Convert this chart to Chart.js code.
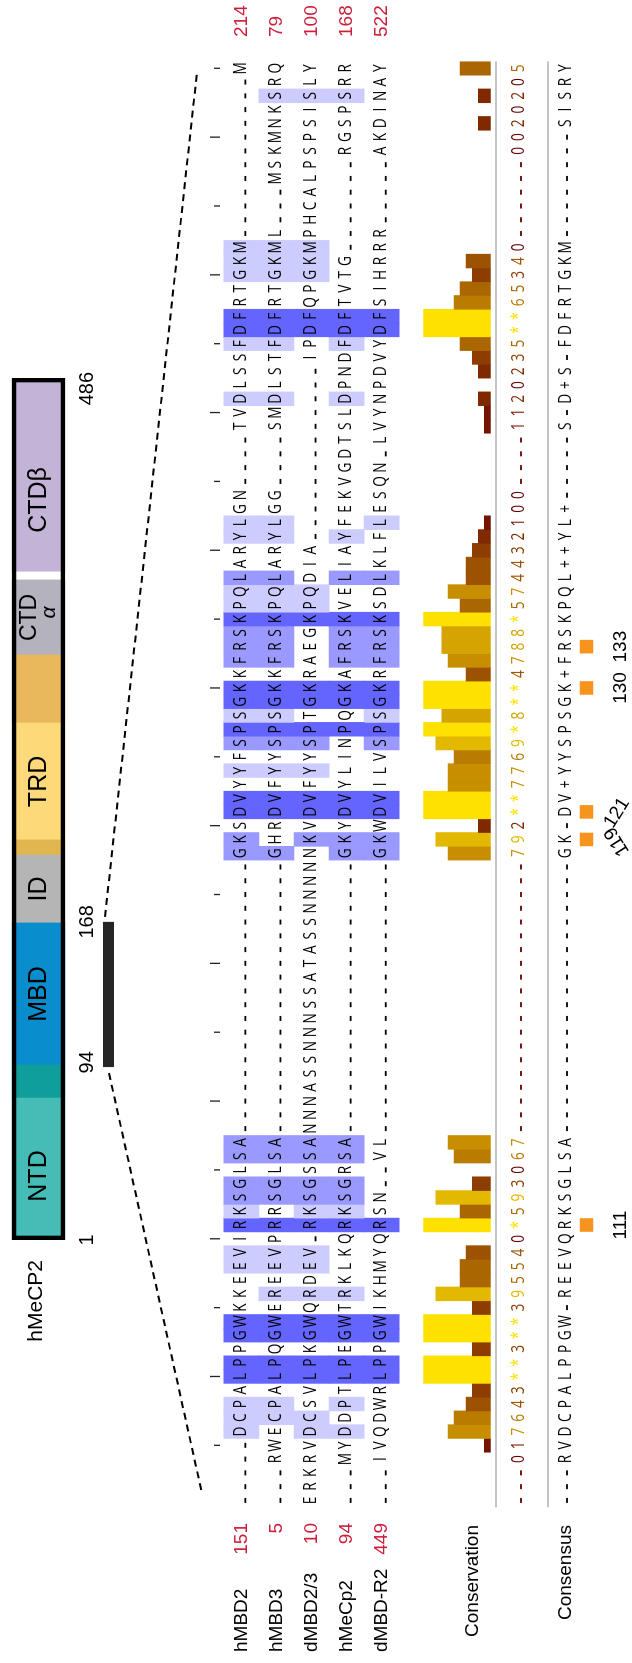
<!DOCTYPE html>
<html lang="en">
<head>
<meta charset="utf-8">
<title>MBD2 / MBD3 / MeCP2 alignment</title>
<script src="https://cdn.jsdelivr.net/npm/chart.js@4.4.1/dist/chart.umd.min.js"></script>
<style>
  html, body { margin: 0; padding: 0; background: #fff; overflow: hidden; }
  body { width: 632px; height: 1663px; position: relative; }
  /* the figure is laid out landscape and turned to read bottom-to-top */
  #sheet { position: absolute; left: 0; top: 0; width: 1663px; height: 632px;
           transform-origin: 0 0; transform: translate(0, 1663px) rotate(-90deg); }
  #sheet canvas { position: absolute; left: 0; top: 0; }
</style>
</head>
<body>
<div id="sheet">
  <canvas id="alignment" width="1663" height="632"></canvas>
  <canvas id="domains" width="1663" height="130"></canvas>
</div>
<script>
// ---------- aligned sequences ('-' = gap) ----------
const seqNames = ['hMBD2', 'hMBD3', 'dMBD2/3', 'hMeCp2', 'dMBD-R2'];
const seqStart = [151, 5, 10, 94, 449];
const seqEnd   = [214, 79, 100, 168, 522];

const hMBD2  = '-----DCPALPPGWKKEEVIRKSGLSA' + '--------------------' +
               'GKSDVYYFSPSGKKFRSKPQLARYLGN' + '----' + 'TVDLSSFDFRTGKM' + '------------' + 'M';
const hMBD3  = '---RWECPALPQGWEREEVPRRSGLSA' + '--------------------' +
               'GHRDVFYYSPSGKKFRSKPQLARYLGG' + '----' + 'SMDLSTFDFRTGKML' + '---' + 'MSKMNKSRQ';
const dMBD23 = 'ERKRVDCSVLPKGWQRDEV-RKSGSSA' + 'NNNASSNNNSSATASSNNNN' +
               'NKVDVFYYSPTGKRAEGKPQDIA' + '-------------' + 'IPDFQPGKMPHCALPSPSISLY';
const hMeCp2 = '---MYDDPTLPEGWTRKLKQRKSGRSA' + '--------------------' +
               'GKYDVYLINPQGKAFRSKVELIAYFEKVGDTSLDPNDFDFTVTG' + '-------' + 'RGSPSRR';
const dMBDR2 = '---IVQDWRLPPGWIKHMYQRSN--VL' + '--------------------' +
               'GKWDVILVSPSGKRFRSKSDLKLFLESQN' + '-' + 'LVYNPDVYDFSIHRRR' + '-----' + 'AKDINAY';

// conservation score per column ('*' = 11, '+' = 10, '-' = gap column)
const conservation = '---017643**3**395540*593067' + '--------------------' +
                     '792**7769*8**4788*574432100----1120235**65340------0020205';
const consensus    = '---RVDCPALPPGW-REEVQRKSGLSA' + '--------------------' +
                     'GK-DV+YYSPSGK+FRSKPQL++YL+-----S-D+S-FDFRTGKM--------SISRY';

// MeCP2 residues marked under the consensus
const mecp2Sites = [111, 119, 121, 130, 133];

// hMeCP2 domain map (diagram units along the bar)
const domainNames = ['NTD', '', 'MBD', 'ID', '', 'TRD', '', 'CTDα', '', 'CTDβ'];
const domainFrom  = [1, 80.9, 99.5, 179.4, 217.6, 226.1, 291.9, 330.2, 372.4, 376.9];
const domainTo    = [80.9, 99.5, 179.4, 217.6, 226.1, 291.9, 330.2, 372.4, 376.9, 486];
const domainTickText = ['1', '94', '168', '486'];
const domainTickAt   = [1, 101, 180, 480];
const alignedSpan    = [98.3, 180];

// ---------- styling / layout ----------
const W = 1663, H = 632;
const COL_LEFT = 155.7, COL_RIGHT = 1601.6;
const ROW0 = 239, ROWH = 36.2;              // first sequence row centre, row pitch
const CONS_BASE = 496, CONS_TOP = 427, CONS_MAX = 11;
const RULER_Y = 220, CONS_TEXT_Y = 518, CONSENSUS_Y = 565, SITE_Y = 595, SITE_LABEL_Y = 621;
const CONS_LINE_Y = 496, CONSENSUS_LINE_Y = 548;
const LETTER_FONT = '18px "Open Sans", "DejaVu Sans", sans-serif';
const LETTER_SX = 0.76, CAP_HALF = 6.4;
const LABEL_FONT = '"Liberation Sans", Arial, Helvetica, sans-serif';
const RED = '#cc1f3c';
const PID_COLORS = ['#ccccff', '#9999ff', '#6464ff'];   // >40 %, >60 %, >80 % identity
const DOMAIN_COLORS = ['#45bcb5', '#0f9e9a', '#0a8dcd', '#b5b5b5', '#e2b64e',
                       '#fdd97a', '#e9b85c', '#b4b2bc', '#ffffff', '#c3b4d7'];
const DOMAIN_LABEL_NUDGE = { 'NTD': -7, 'CTDβ': -25 };

const seqs = [hMBD2, hMBD3, dMBD23, hMeCp2, dMBDR2];
const N = hMBD2.length;
const colLabels = Array.from({ length: N }, (_, i) => String(i + 1));

const scoreOf = ch => ch === '*' ? 11 : ch === '+' ? 10 : ch === '-' ? 0 : Number(ch);
const consScores = conservation.split('').map(scoreOf);
function consColor(s) {
  const t = s / 11;
  return 'rgb(' + Math.round(100 + 155 * t) + ',' + Math.round(225 * t) + ',0)';
}

// percent identity shading (residue equal to the column's most common residue)
function columnTop(i) {
  const counts = {};
  seqs.forEach(s => { const c = s[i]; if (c !== '-') counts[c] = (counts[c] || 0) + 1; });
  let best = null, n = 0;
  for (const k in counts) if (counts[k] > n) { n = counts[k]; best = k; }
  return { res: best, pid: 100 * n / seqs.length };
}
const colTop = colLabels.map((_, i) => columnTop(i));
function pidColor(i, ch) {
  const t = colTop[i];
  if (ch === '-' || ch !== t.res) return null;
  if (t.pid > 80) return PID_COLORS[2];
  if (t.pid > 60) return PID_COLORS[1];
  if (t.pid > 40) return PID_COLORS[0];
  return null;
}

function residueColumn(seq, start, residue) {
  let n = start - 1;
  for (let i = 0; i < seq.length; i++) {
    if (seq[i] !== '-') { n++; if (n === residue) return i; }
  }
  return -1;
}
const siteCols = mecp2Sites.map(r => residueColumn(hMeCp2, seqStart[3], r));

const toRow = y => (y - ROW0) / ROWH;       // pixel row -> row units of the y scale

// ---------- domain map ----------
const domainDecor = {
  id: 'domainDecor',
  afterDatasetsDraw(chart) {
    const ctx = chart.ctx, xs = chart.scales.x;
    const yMid = chart.scales.y.getPixelForValue(0);
    ctx.save();
    ctx.fillStyle = '#000';
    ctx.textAlign = 'center';
    ctx.textBaseline = 'middle';
    domainNames.forEach((name, k) => {
      if (!name) return;
      const xm = xs.getPixelForValue((domainFrom[k] + domainTo[k]) / 2) + (DOMAIN_LABEL_NUDGE[name] || 0);
      if (name === 'CTDα') {
        ctx.font = '23px ' + LABEL_FONT;
        ctx.fillText('CTD', xm, yMid - 9);
        ctx.font = 'italic 21px ' + LABEL_FONT;
        ctx.fillText('α', xm + 5, yMid + 11);
      } else {
        ctx.font = '25px ' + LABEL_FONT;
        ctx.fillText(name, xm, yMid + 1);
      }
    });
    ctx.font = '21px ' + LABEL_FONT;
    ctx.textAlign = 'right';
    ctx.fillText('hMeCP2', xs.left - 20, yMid - 2);
    ctx.textAlign = 'center';
    ctx.font = '20px ' + LABEL_FONT;
    domainTickText.forEach((t, k) => ctx.fillText(t, xs.getPixelForValue(domainTickAt[k]), 87));
    // region of MeCP2 used in the alignment
    const a0 = xs.getPixelForValue(alignedSpan[0]), a1 = xs.getPixelForValue(alignedSpan[1]);
    ctx.fillStyle = '#262626';
    ctx.fillRect(a0, 103, a1 - a0, 11);
    ctx.restore();
  }
};

const domainDatasets = domainNames.map((name, k) => ({
  label: name || 'linker',
  data: [[domainFrom[k], domainTo[k]]],
  backgroundColor: DOMAIN_COLORS[k],
  borderWidth: 0,
  barThickness: 53,
  grouped: false,
  order: 1
}));
domainDatasets.push({
  label: 'outline',
  data: [[domainFrom[0], domainTo[domainTo.length - 1]]],
  backgroundColor: 'rgba(0,0,0,0)',
  borderColor: '#000',
  borderWidth: 4,
  borderSkipped: false,
  barThickness: 53,
  grouped: false,
  order: 0
});

const domainChart = new Chart(document.getElementById('domains'), {
  type: 'bar',
  data: { labels: ['hMeCP2'], datasets: domainDatasets },
  options: {
    indexAxis: 'y',
    responsive: false, animation: false, devicePixelRatio: 1, events: [],
    layout: { padding: { left: 423, right: 378, top: 0, bottom: 53 } },
    plugins: { legend: { display: false }, tooltip: { enabled: false } },
    scales: {
      x: { type: 'linear', min: 1, max: 486, display: false },
      y: { type: 'category', display: false, offset: true }
    }
  },
  plugins: [domainDecor]
});

// ---------- alignment ----------
function drawGlyph(ctx, ch, x, yc, color, gapDrop) {
  if (ch === '-') {
    ctx.fillStyle = color;
    ctx.fillRect(x - 2.5, yc + gapDrop - 0.9, 5, 1.8);
    return;
  }
  ctx.save();
  ctx.translate(x, yc + CAP_HALF);
  ctx.scale(LETTER_SX, 1);
  ctx.fillStyle = color;
  ctx.fillText(ch, 0, 0);
  ctx.restore();
}

const alignmentDecor = {
  id: 'alignmentDecor',
  afterDatasetsDraw(chart) {
    const ctx = chart.ctx, xs = chart.scales.x, ys = chart.scales.y;
    const colX = i => xs.getPixelForValue(i);
    ctx.save();

    // connectors from the MeCP2 region to the alignment
    const dx = domainChart.scales.x;
    ctx.strokeStyle = '#000';
    ctx.lineWidth = 2;
    ctx.setLineDash([7, 5]);
    ctx.beginPath();
    ctx.moveTo(dx.getPixelForValue(alignedSpan[0]) - 6, 109);
    ctx.lineTo(colX(0) + 7, 202);
    ctx.stroke();
    ctx.beginPath();
    ctx.moveTo(dx.getPixelForValue(alignedSpan[1]) + 5, 105);
    ctx.lineTo(colX(N - 1) - 4, 197);
    ctx.stroke();
    ctx.setLineDash([]);

    // ruler ticks every 5 columns
    ctx.strokeStyle = '#222';
    ctx.lineWidth = 1.3;
    for (let i = 0; i < N; i++) {
      const p = i + 1;
      if (p % 5) continue;
      const len = p % 10 === 0 ? 10 : 6;
      ctx.beginPath();
      ctx.moveTo(colX(i), RULER_Y);
      ctx.lineTo(colX(i), RULER_Y - len);
      ctx.stroke();
    }

    // divider lines
    ctx.strokeStyle = '#8a8a8a';
    ctx.lineWidth = 1.2;
    [CONS_LINE_Y, CONSENSUS_LINE_Y].forEach(y => {
      ctx.beginPath();
      ctx.moveTo(xs.left, y);
      ctx.lineTo(xs.right, y);
      ctx.stroke();
    });

    // residues
    ctx.font = LETTER_FONT;
    ctx.textAlign = 'center';
    ctx.textBaseline = 'alphabetic';
    seqs.forEach((s, r) => {
      const yc = ys.getPixelForValue(r) - 2;
      for (let i = 0; i < N; i++) drawGlyph(ctx, s[i], colX(i), yc, '#000', 6);
    });
    for (let i = 0; i < N; i++) {
      drawGlyph(ctx, conservation[i], colX(i), CONS_TEXT_Y, consColor(consScores[i]), 3);
      drawGlyph(ctx, consensus[i], colX(i), CONSENSUS_Y, '#000', 2);
    }

    // names and residue ranges
    ctx.textBaseline = 'middle';
    seqs.forEach((s, r) => {
      const y = ys.getPixelForValue(r);
      ctx.font = '19px ' + LABEL_FONT;
      ctx.fillStyle = '#000';
      ctx.textAlign = 'left';
      ctx.fillText(seqNames[r], 11, y);
      ctx.fillStyle = RED;
      ctx.textAlign = 'right';
      ctx.fillText(String(seqStart[r]), 140, y);
      ctx.textAlign = 'left';
      ctx.fillText(String(seqEnd[r]), 1626, y);
    });
    ctx.font = '19px ' + LABEL_FONT;
    ctx.fillStyle = '#000';
    ctx.textAlign = 'right';
    ctx.fillText('Conservation', 138, 473);
    ctx.fillText('Consensus', 138, 566);

    // site numbers; neighbouring labels fan out
    ctx.font = '19px ' + LABEL_FONT;
    ctx.textAlign = 'center';
    siteCols.forEach((c, k) => {
      const near = k + 1 < siteCols.length && siteCols[k + 1] - c < 3;
      const nearPrev = k > 0 && c - siteCols[k - 1] < 3;
      const x = colX(c);
      ctx.save();
      if (near) { ctx.translate(x - 2, SITE_LABEL_Y - 4); ctx.rotate(-0.56); }
      else if (nearPrev) { ctx.translate(x - 1, SITE_LABEL_Y - 4); ctx.rotate(0.56); }
      else ctx.translate(x, SITE_LABEL_Y);
      ctx.fillText(String(mecp2Sites[k]), 0, 0);
      ctx.restore();
    });
    ctx.restore();
  }
};

const shadeSets = seqs.map((s, r) => {
  const colors = [];
  const data = colLabels.map((_, i) => {
    const c = pidColor(i, s[i]);
    colors.push(c || 'rgba(0,0,0,0)');
    return c ? [r - 0.5, r + 0.5] : null;
  });
  return {
    type: 'bar', label: seqNames[r], data, backgroundColor: colors,
    borderWidth: 0, grouped: false, barPercentage: 1, categoryPercentage: 1, yAxisID: 'y'
  };
});

const siteData = colLabels.map(() => null);
siteCols.forEach(c => { siteData[c] = toRow(SITE_Y); });

const consUnit = (CONS_BASE - CONS_TOP) / CONS_MAX;

new Chart(document.getElementById('alignment'), {
  type: 'bar',
  data: {
    labels: colLabels,
    datasets: shadeSets.concat([
      {
        type: 'bar', label: 'Conservation',
        data: consScores.map(s => (s > 0 ? s : null)),
        backgroundColor: consScores.map(consColor),
        borderWidth: 0, grouped: false, barPercentage: 1, categoryPercentage: 1, yAxisID: 'yc'
      },
      {
        type: 'line', label: 'MeCP2 sites', data: siteData, showLine: false,
        pointStyle: 'rect', pointRadius: 9.6, pointBorderWidth: 0,
        pointBackgroundColor: '#f7941d', yAxisID: 'y'
      }
    ])
  },
  options: {
    responsive: false, animation: false, devicePixelRatio: 1, events: [],
    layout: { padding: { left: COL_LEFT, right: W - COL_RIGHT, top: 0, bottom: 0 } },
    plugins: { legend: { display: false }, tooltip: { enabled: false } },
    scales: {
      x: { type: 'category', display: false, offset: true },
      y: { type: 'linear', display: false, reverse: true, min: -ROW0 / ROWH, max: (H - ROW0) / ROWH },
      yc: { type: 'linear', display: false, min: -(H - CONS_BASE) / consUnit, max: CONS_BASE / consUnit }
    }
  },
  plugins: [alignmentDecor]
});
</script>
</body>
</html>
